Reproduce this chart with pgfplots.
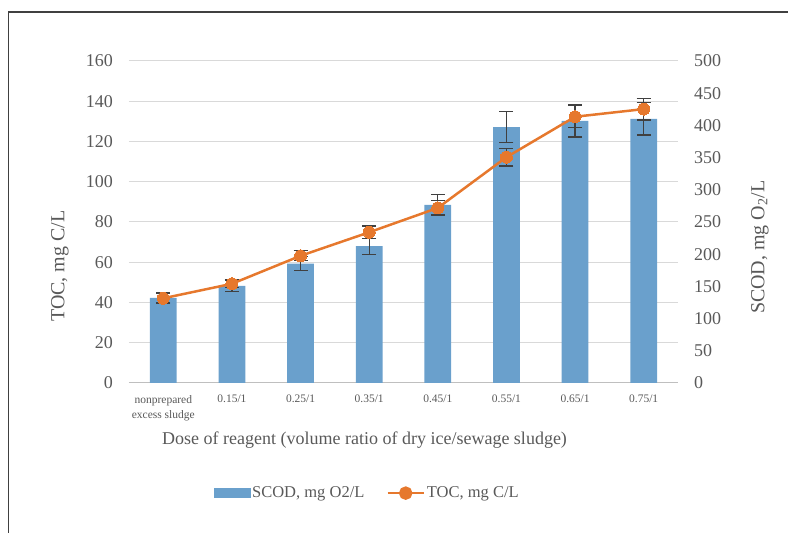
\documentclass[border=0pt]{standalone}
\usepackage{pgfplots}
\pgfplotsset{compat=1.18}
\usepackage{pgfplotstable}
\usepackage{fontspec}
\setmainfont{Liberation Serif}
\definecolor{barblue}{RGB}{106,160,204}
\definecolor{lineorange}{RGB}{230,120,45}
\definecolor{txtgray}{RGB}{89,89,89}
\definecolor{gridgray}{RGB}{217,217,217}
\definecolor{errgray}{RGB}{64,64,64}
\definecolor{axgray}{RGB}{191,191,191}

\pgfplotstableread{
x y e
0 132 8
1 151 9
2 185.5 11
3 212.5 12.4
4 276.6 16
5 397.4 24
6 407 25
7 410 25
}\scod

\pgfplotstableread{
x y e
0 42.1 2.2
1 49.3 2.0
2 63.2 2.5
3 74.9 3.1
4 87.0 3.5
5 112.2 4.4
6 132.3 5.4
7 136.1 5.4
}\toc

\pgfplotsset{base/.style={scale only axis, width=549pt, height=322pt,
  at={(129pt,150pt)}, anchor=south west, xmin=-0.5, xmax=7.5,
  /pgf/number format/assume math mode=true,
  ticklabel style={font=\fontsize{18}{20}\selectfont, text=txtgray}}}

\begin{document}
\begin{tikzpicture}
\path[use as bounding box] (0,0) rectangle (788pt,533pt);
\draw[errgray, line width=1.3pt] (8.5pt,0pt) -- (8.5pt,521pt) -- (788pt,521pt);

\begin{axis}[base, ymin=0, ymax=160, ytick={0,20,...,160},
  ymajorgrids, grid style={gridgray, line width=1pt},
  axis x line*=bottom, axis y line*=left,
  y axis line style={draw=none},
  x axis line style={axgray, line width=1pt, -},
  xtick={0,...,7},
  xticklabels={{nonprepared\\excess sludge},0.15/1,0.25/1,0.35/1,0.45/1,0.55/1,0.65/1,0.75/1},
  x tick label style={font=\fontsize{11.5}{15}\selectfont, text=txtgray, align=center, anchor=north, inner sep=0pt, yshift=-7pt},
  x tick style={draw=none}, y tick style={draw=none},
  major tick length=5pt, tick align=outside,
  extra x ticks={-0.5,0.5,...,7.5}, extra x tick labels={},
  extra x tick style={tick style={draw=axgray, line width=1pt}},
  yticklabel style={anchor=east, inner sep=0pt, xshift=-11pt},
  ylabel={TOC, mg C/L},
  ylabel style={at={(axis description cs:-0.1257,0.363)}, anchor=center, font=\fontsize{20}{24}\selectfont, text=txtgray},
  xlabel={Dose of reagent (volume ratio of dry ice/sewage sludge)},
  xlabel style={at={(axis description cs:0.429,-0.177)}, anchor=center, font=\fontsize{18}{22}\selectfont, text=txtgray}]
\addplot[draw=none] coordinates {(0,0)};
\end{axis}

\begin{axis}[base, ymin=0, ymax=500, ytick={0,50,...,500},
  hide x axis, axis y line*=right, y axis line style={draw=none},
  major tick length=0pt, y tick style={draw=none},
  yticklabel style={anchor=west, inner sep=0pt, xshift=16pt},
  ylabel={SCOD, mg O\textsubscript{2}/L},
  ylabel style={at={(axis description cs:1.149,0.422)}, anchor=center, font=\fontsize{20}{24}\selectfont, text=txtgray}]
\addplot[ybar, bar width=0.39, fill=barblue, draw=none,
  error bars/.cd, y dir=both, y explicit,
  error bar style={errgray, line width=1.2pt},
  error mark options={errgray, line width=1.2pt, mark size=7pt, rotate=90}]
  table[x=x, y=y, y error=e] {\scod};
\end{axis}

\begin{axis}[base, ymin=0, ymax=160, hide axis,
  legend style={at={(0.434,-0.342)}, anchor=center, draw=none, fill=none,
    font=\fontsize{16.5}{18}\selectfont, text=txtgray,
    /tikz/every even column/.append style={column sep=20pt}},
  legend columns=2]
\addlegendimage{legend image code/.code={\fill[barblue] (0pt,-4.5pt) rectangle (36pt,4.5pt);}}
\addlegendentry{SCOD, mg O2/L}
\addplot[lineorange, line width=2.5pt, mark=*, mark size=6pt,
  mark options={fill=lineorange, draw=lineorange, line width=0pt},
  legend image code/.code={\draw[lineorange, line width=2.5pt] (0pt,0pt) -- (36pt,0pt); \fill[lineorange] (18pt,0pt) circle (5.5pt);},
  error bars/.cd, y dir=both, y explicit,
  error bar style={errgray, line width=1.2pt},
  error mark options={errgray, line width=1.2pt, mark size=7pt, rotate=90}]
  table[x=x, y=y, y error=e] {\toc};
\addlegendentry{TOC, mg C/L}
\end{axis}
\end{tikzpicture}
\end{document}
